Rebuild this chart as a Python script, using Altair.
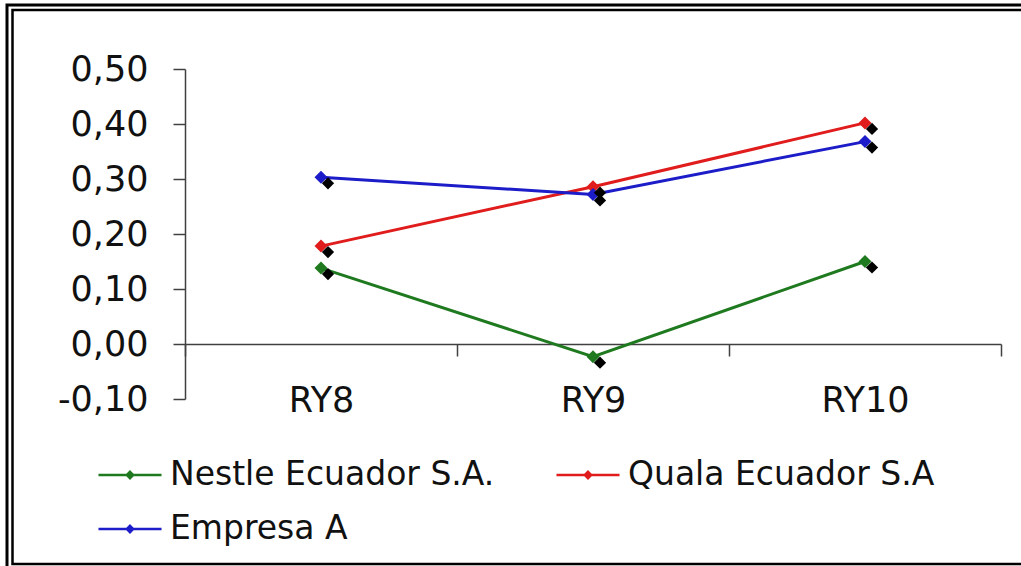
import altair as alt
import pandas as pd

periods = ["RY8", "RY9", "RY10"]
series = ["Nestle Ecuador S.A.", "Quala Ecuador S.A", "Empresa A"]
nestle = [0.138, -0.023, 0.150]
quala = [0.178, 0.286, 0.402]
empresa = [0.303, 0.272, 0.368]
colors = ["#1f7a1f", "#e01c1c", "#1c1cc8"]
y_ticks = [-0.10, 0.00, 0.10, 0.20, 0.30, 0.40, 0.50]

rows = []
for name, vals in zip(series, [nestle, quala, empresa]):
    for p, v in zip(periods, vals):
        rows.append({"period": p, "series": name, "value": v})
df = pd.DataFrame(rows)

W, H = 816, 330
PAD_L, PAD_T = 185, 69
FONT = "DejaVu Sans"

x_enc = alt.X(
    "period:N", sort=periods, bandPosition=0.5, title=None,
    scale=alt.Scale(type="band", paddingInner=0, paddingOuter=0),
    axis=alt.Axis(offset=-55, tickBand="extent", tickSize=12, labelPadding=27,
                  domainColor="#404040", tickColor="#404040", domainWidth=1.5,
                  tickWidth=1.5, labelFont=FONT, labelFontSize=35,
                  labelColor="#111111", labelAngle=0, grid=False),
)
y_enc = alt.Y(
    "value:Q", title=None,
    scale=alt.Scale(domain=[-0.10, 0.50], nice=False, zero=False),
    axis=alt.Axis(values=y_ticks, tickSize=12, labelPadding=25,
                  domainColor="#404040", tickColor="#404040", domainWidth=1.5,
                  tickWidth=1.5, labelFont=FONT, labelFontSize=35,
                  labelColor="#111111", grid=False,
                  labelExpr="(datum.value < -0.0001 ? '-' : '') + replace(format(abs(datum.value), '.2f'), '.', ',')"),
)
color_scale = alt.Scale(domain=series, range=colors)

legend = alt.Legend(
    orient="none", legendX=-88, legendY=373, columns=2, direction="horizontal",
    title=None,
    labelFont=FONT, labelFontSize=33, labelColor="#111111", labelLimit=0,
    symbolType="M-1,0L1,0M0,-0.1L0.1,0L0,0.1L-0.1,0Z",
    symbolSize=3969, symbolStrokeWidth=2.5, labelOffset=7,
    columnPadding=56, rowPadding=4, padding=0,
)

base = alt.Chart(df)
lines = base.mark_line(strokeWidth=3).encode(
    x=x_enc, y=y_enc,
    color=alt.Color("series:N", scale=color_scale, legend=legend, sort=series),
)
pts = base.mark_point(shape="diamond", filled=True, size=170, opacity=1).encode(
    x=x_enc, y=y_enc,
    color=alt.Color("series:N", scale=color_scale, legend=None),
)
shadow = base.mark_point(shape="diamond", filled=True, size=150, color="black",
                         opacity=1, xOffset=7, yOffset=6).encode(x=x_enc, y=y_enc)

frame_df = pd.DataFrame({"k": [0]})
outer = alt.Chart(frame_df).mark_rect(filled=False, stroke="black", strokeWidth=3).encode(
    x=alt.value(-178), x2=alt.value(850), y=alt.value(-64), y2=alt.value(505))
inner = alt.Chart(frame_df).mark_rect(filled=False, stroke="black", strokeWidth=2.5).encode(
    x=alt.value(-172.5), x2=alt.value(845), y=alt.value(-59), y2=alt.value(495))

chart = alt.layer(outer, inner, lines, pts, shadow).properties(
    width=W, height=H,
    autosize=alt.AutoSizeParams(type="none"),
    padding={"left": PAD_L, "top": PAD_T, "right": 1021 - PAD_L - W, "bottom": 566 - PAD_T - H},
    background="white",
).configure_view(stroke=None)

chart.save("out.html", embed_options={"renderer": "svg", "actions": False})
